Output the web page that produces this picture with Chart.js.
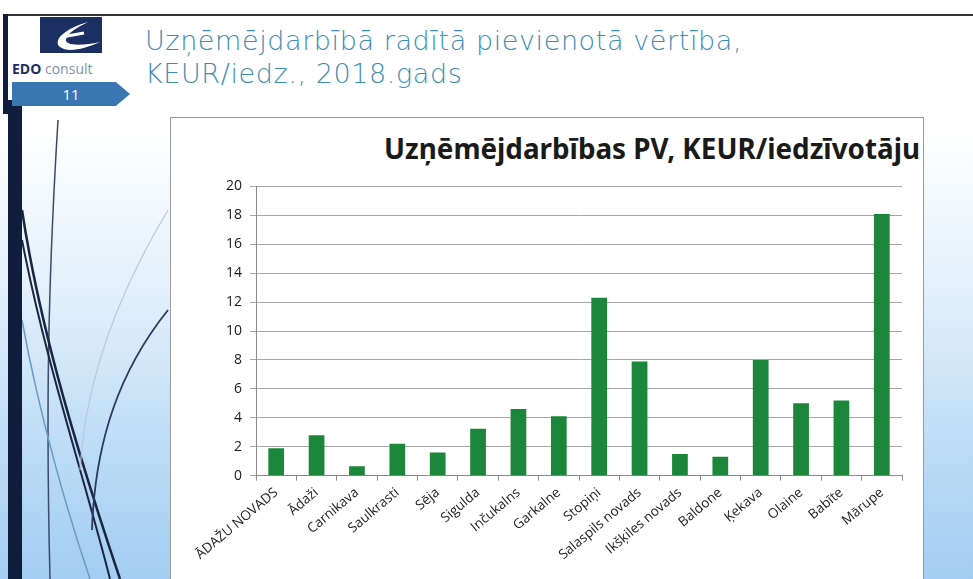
<!DOCTYPE html>
<html>
<head>
<meta charset="utf-8">
<script src="https://cdn.jsdelivr.net/npm/chart.js@4.4.1/dist/chart.umd.min.js"></script>
<style>
  html, body { margin: 0; padding: 0; }
  body {
    width: 973px; height: 579px; position: relative; overflow: hidden;
    background: linear-gradient(to bottom, #ffffff 0%, #ffffff 22%, #e3f0fb 50%, #b9daf5 80%, #a3cdf2 100%);
    font-family: "Open Sans", sans-serif;
  }
  #topline { position: absolute; left: 3px; top: 14px; width: 970px; height: 2px; background: #333; }
  #leftbar { position: absolute; left: 8px; top: 100px; width: 14px; height: 479px; background: #111d3d; }
  #leftstrip { position: absolute; left: 3px; top: 14px; width: 5px; height: 100px; background: #111d3d; }
  #logo { position: absolute; left: 40px; top: 17px; width: 62px; height: 36px; background: #1b2f63; }
  #edo { position: absolute; left: 12px; top: 59px; font-size: 14px; color: #7f8fa8; }
  #edo b { color: #1b2f63; }
  #tab { position: absolute; left: 12px; top: 82px; width: 118px; height: 24px; background: #3a76b3;
         clip-path: polygon(0 0, 88% 0, 100% 50%, 88% 100%, 0 100%); color: #fff; font-size: 15px;
         text-align: center; line-height: 24px; }
  #heading { position: absolute; left: 145px; top: 24px; color: #3b8db3; font-family: "DejaVu Sans", sans-serif;
             font-weight: 200; font-size: 27px; line-height: 33px; letter-spacing: 0.6px; white-space: nowrap; }
  #box { position: absolute; left: 170px; top: 117px; width: 752px; height: 470px; background: #fff;
         border: 1px solid #9a9a9a; }
  #ctitle { position: absolute; left: 384px; top: 129px; font-family: "Noto Sans", sans-serif; font-weight: bold;
            font-size: 27.8px; color: #1a1a1a; white-space: nowrap; }
  #wrap { position: absolute; left: 175px; top: 170px; width: 740px; height: 409px; }
  svg { position: absolute; left: 0; top: 0; }
</style>
</head>
<body>
<svg width="973" height="579">
  <path d="M58 120 C 50 250, 45 380, 50 579" stroke="#3a4a6a" stroke-width="1.5" fill="none"/>
  <path d="M22 210 C 40 330, 80 460, 120 579" stroke="#1b2540" stroke-width="2.5" fill="none"/>
  <path d="M22 240 C 45 360, 85 480, 110 579" stroke="#1b2540" stroke-width="2" fill="none"/>
  <path d="M22 320 C 40 420, 70 520, 90 579" stroke="#6a9cc0" stroke-width="1.5" fill="none"/>
  <path d="M168 210 C 120 290, 85 380, 80 470" stroke="#b8c8d8" stroke-width="1.2" fill="none"/>
  <path d="M168 310 C 120 370, 95 440, 92 530" stroke="#2a3a5e" stroke-width="1.8" fill="none"/>
</svg>
<div id="topline"></div>
<div id="leftstrip"></div>
<div id="leftbar"></div>
<div id="logo"></div>
<svg width="973" height="120" style="z-index:2">
  <path d="M88 22 C 66 28, 52 40, 60 47 C 68 53, 84 49, 100 42 C 82 46, 64 46, 66 39 C 69 32, 78 27, 88 22 Z" fill="#ffffff"/>
  <path d="M62 37 L 84 33" stroke="#ffffff" stroke-width="3"/>
</svg>
<div id="edo"><b>EDO</b> consult</div>
<div id="tab">11</div>
<div id="heading">Uzņēmējdarbībā radītā pievienotā vērtība,<br>KEUR/iedz., 2018.gads</div>
<div id="box"></div>
<div id="ctitle">Uzņēmējdarbības PV, KEUR/iedzīvotāju</div>
<div id="wrap"><canvas id="pvChart"></canvas></div>
<script>
// dati
const novadi = ["ĀDAŽU NOVADS", "Ādaži", "Carnikava", "Saulkrasti", "Sēja", "Sigulda", "Inčukalns", "Garkalne",
  "Stopiņi", "Salaspils novads", "Ikšķiles novads", "Baldone", "Ķekava", "Olaine", "Babīte", "Mārupe"];
const pvVertibas = [1.9, 2.8, 0.65, 2.2, 1.6, 3.25, 4.6, 4.1, 12.3, 7.9, 1.5, 1.3, 8.0, 5.0, 5.2, 18.1];
const yTicks = [0, 2, 4, 6, 8, 10, 12, 14, 16, 18, 20];

const data = {
  labels: novadi,
  datasets: [{
    label: 'Uzņēmējdarbības PV',
    data: pvVertibas,
    backgroundColor: '#1c873b',
    borderWidth: 0,
    barPercentage: 0.39,
    categoryPercentage: 1
  }]
};

const config = {
  type: 'bar',
  data: data,
  options: {
    responsive: true,
    maintainAspectRatio: false,
    animation: false,
    layout: { padding: { left: 43, right: 13, top: 3, bottom: 12 } },
    plugins: { legend: { display: false }, tooltip: { enabled: false } },
    scales: {
      x: {
        grid: { drawOnChartArea: false, color: '#8a8a8a', tickLength: 5 },
        border: { color: '#8a8a8a' },
        ticks: { color: '#222', font: { family: 'Open Sans', size: 13.5 }, maxRotation: 40, minRotation: 40, autoSkip: false, padding: 4 }
      },
      y: {
        min: 0,
        max: 20,
        afterBuildTicks: axis => { axis.ticks = yTicks.map(v => ({ value: v })); },
        grid: { color: '#a6a6a6', tickLength: 6 },
        border: { color: '#8a8a8a' },
        ticks: { color: '#1a1a1a', font: { family: 'Open Sans', size: 14 }, padding: 8 }
      }
    }
  }
};

const ctx = document.getElementById('pvChart').getContext('2d');
const pvChart = new Chart(ctx, config);
</script>
</body>
</html>
